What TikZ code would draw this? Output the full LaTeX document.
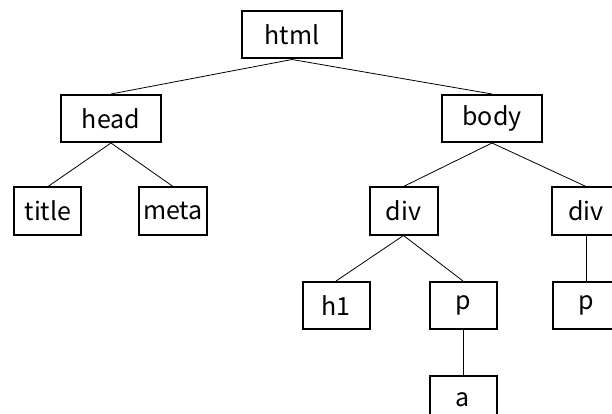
\documentclass[tikz,border=0pt]{standalone}
\usepackage{fontspec}
\setmainfont{Noto Sans CJK SC}
\usepackage{tikz}
\usetikzlibrary{positioning}

\begin{document}
\begin{tikzpicture}[
      every node/.style={font=\fontsize{25}{30}\selectfont},
      tag/.style={rectangle, draw=black, line width=2pt, align=center, minimum height=47pt, minimum width=67pt, inner sep=0pt},
      tagwide/.style={tag, minimum width=100pt},
      link/.style={line width=0.8pt, color=black}
    ]
      % Page frame (right column is cut at the edge)
      \path[use as bounding box, clip] (-292pt,35pt) rectangle (320pt,-379pt);

      % Level 0 and 1
      \node[tagwide] (html) at (0,0) {html};
      \node[tagwide, below=34.5pt of html, xshift=-181pt] (head) {head};
      \node[tagwide, below=34.5pt of html, xshift=200pt] (body) {body};

      % Level 2
      \node[tag, below=43.5pt of head, xshift=-63pt] (title) {title};
      \node[tag, below=43.5pt of head, xshift=62pt] (meta) {meta};
      \node[tag, below=43.5pt of body, xshift=-88.5pt, minimum width=68pt] (div1) {div};
      \node[tag, below=43.5pt of body, xshift=94pt, minimum width=68pt] (div2) {div};

      % Level 3 and 4
      \node[tag, below=45.5pt of div1, xshift=-67.5pt] (h1) {h1};
      \node[tag, below=45.5pt of div1, xshift=59.5pt] (p1) {p};
      \node[tag, below=45.5pt of div2] (p2) {p};
      \node[tag, below=45pt of p1] (a) {a};

      % Tree edges
      \draw[link] (html.south) -- (head.north);
      \draw[link] (html.south) -- (body.north);
      \draw[link] (head.south) -- (title.north);
      \draw[link] (head.south) -- (meta.north);
      \draw[link] (body.south) -- (div1.north);
      \draw[link] (body.south) -- (div2.north);
      \draw[link] (div1.south) -- (h1.north);
      \draw[link] (div1.south) -- (p1.north);
      \draw[link] (div2.south) -- (p2.north);
      \draw[link] (p1.south) -- (a.north);
    \end{tikzpicture}
\end{document}
